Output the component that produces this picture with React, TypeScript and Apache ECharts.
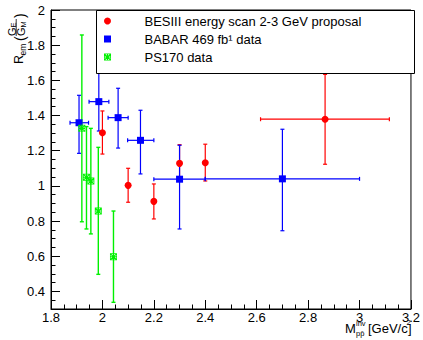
import React, { useEffect, useRef } from "react";
import * as echarts from "echarts";

// ---- data ----
const besiiiName = "BESIII energy scan 2-3 GeV proposal";
const babarName = "BABAR 469 fb\u00B9 data";
const ps170Name = "PS170 data";

const besiiiX = [2.0, 2.1, 2.2, 2.3, 2.4, 2.866];
const besiiiY = [1.302, 1.003, 0.912, 1.128, 1.132, 1.379];
const besiiiYLow = [1.181, 0.907, 0.812, 1.035, 1.028, 1.123];
const besiiiYHigh = [1.426, 1.1, 1.011, 1.234, 1.237, 1.634];
const besiiiXLow = [2.0, 2.1, 2.2, 2.3, 2.4, 2.615];
const besiiiXHigh = [2.0, 2.1, 2.2, 2.3, 2.4, 3.116];

const babarX = [1.909, 1.986, 2.061, 2.148, 2.3, 2.7];
const babarY = [1.359, 1.479, 1.388, 1.259, 1.038, 1.04];
const babarYLow = [1.185, 1.312, 1.215, 1.068, 0.755, 0.745];
const babarYHigh = [1.515, 1.649, 1.555, 1.43, 1.231, 1.322];
const babarXLow = [1.874, 1.948, 2.022, 2.098, 2.2, 2.4];
const babarXHigh = [1.946, 2.025, 2.1, 2.2, 2.4, 3.0];

const ps170X = [1.92, 1.938, 1.955, 1.984, 2.043];
const ps170Y = [1.327, 1.049, 1.028, 0.857, 0.597];
const ps170YLow = [0.796, 0.755, 0.727, 0.497, 0.338];
const ps170YHigh = [1.858, 1.337, 1.327, 1.219, 0.857];

const yTickValues = [0.4, 0.6, 0.8, 1.0, 1.2, 1.4, 1.6, 1.8, 2.0];
const yMinorTickValues = [
  0.3, 0.35, 0.45, 0.5, 0.55, 0.65, 0.7, 0.75, 0.85, 0.9, 0.95, 1.05, 1.1,
  1.15, 1.25, 1.3, 1.35, 1.45, 1.5, 1.55, 1.65, 1.7, 1.75, 1.85, 1.9, 1.95,
];

const RED = "#ff0000";
const BLUE = "#0000ff";
const GREEN = "#00f000";
const FONT = "Liberation Sans";
const SQUARE = "path://M0,0L10,0L10,10L0,10Z";
const STAR =
  "path://M0,4.2L10,4.2L10,5.8L0,5.8Z M4.2,0L5.8,0L5.8,10L4.2,10Z M0.6,1.7L1.7,0.6L9.4,8.3L8.3,9.4Z M8.3,0.6L9.4,1.7L1.7,9.4L0.6,8.3Z M0,0L10,0L10,1L0,1Z M0,9L10,9L10,10L0,10Z M0,0L1,0L1,10L0,10Z M9,0L10,0L10,10L9,10Z";

function errRows(
  x: number[],
  y: number[],
  xl: number[] | null,
  xh: number[] | null,
  yl: number[],
  yh: number[]
) {
  return x.map((v, i) => [
    v,
    y[i],
    xl ? xl[i] : v,
    xh ? xh[i] : v,
    yl[i],
    yh[i],
  ]);
}

function makeErrSeries(data: number[][], color: string, width: number) {
  return {
    type: "custom",
    silent: true,
    z: 2,
    encode: { x: 0, y: 1 },
    data,
    renderItem: (_params: any, api: any) => {
      const x = api.value(0);
      const y = api.value(1);
      const xl = api.value(2);
      const xh = api.value(3);
      const yl = api.value(4);
      const yh = api.value(5);
      const style = { stroke: color, lineWidth: width };
      const children: any[] = [];
      const cap = 2;
      if (yh > yl) {
        const a = api.coord([x, yl]);
        const b = api.coord([x, yh]);
        children.push({ type: "line", shape: { x1: a[0], y1: a[1], x2: b[0], y2: b[1] }, style });
        children.push({ type: "line", shape: { x1: a[0] - cap, y1: a[1], x2: a[0] + cap, y2: a[1] }, style });
        children.push({ type: "line", shape: { x1: b[0] - cap, y1: b[1], x2: b[0] + cap, y2: b[1] }, style });
      }
      if (xh > xl) {
        const a = api.coord([xl, y]);
        const b = api.coord([xh, y]);
        children.push({ type: "line", shape: { x1: a[0], y1: a[1], x2: b[0], y2: b[1] }, style });
        children.push({ type: "line", shape: { x1: a[0], y1: a[1] - cap, x2: a[0], y2: a[1] + cap }, style });
        children.push({ type: "line", shape: { x1: b[0], y1: b[1] - cap, x2: b[0], y2: b[1] + cap }, style });
      }
      return { type: "group", children };
    },
  };
}

export default function App() {
  const ref = useRef<HTMLDivElement>(null);

  useEffect(() => {
    if (!ref.current) return;
    const chart = echarts.init(ref.current, undefined, { renderer: "svg" });

    const txt = (
      text: string,
      x: number,
      y: number,
      size: number,
      extra: any = {}
    ) => ({
      type: "text",
      x,
      y,
      style: {
        text,
        fontSize: size,
        fontFamily: FONT,
        fill: "#000",
        verticalAlign: "bottom",
        ...extra,
      },
    });

    const option: any = {
      animation: false,
      backgroundColor: "#fff",
      grid: {
        left: 51,
        right: 9,
        top: 10,
        bottom: 31,
        show: true,
        borderColor: "#000",
        borderWidth: 1,
        backgroundColor: "transparent",
      },
      xAxis: {
        type: "value",
        min: 1.8,
        max: 3.2,
        interval: 0.2,
        axisLine: { show: true, onZero: false, lineStyle: { color: "#000", width: 1 } },
        axisTick: { show: true, inside: true, length: 9, lineStyle: { color: "#000" } },
        minorTick: { show: true, splitNumber: 4, length: 4.5, lineStyle: { color: "#000" } },
        splitLine: { show: false },
        axisLabel: {
          margin: 2,
          fontSize: 13,
          fontFamily: FONT,
          color: "#000",
          showMinLabel: true,
          showMaxLabel: true,
          formatter: (v: number) => String(parseFloat(v.toFixed(1))),
        },
      },
      yAxis: [
        {
          type: "value",
          min: 0.3,
          max: 2.0,
          axisLine: { show: true, onZero: false, lineStyle: { color: "#000", width: 1 } },
          axisTick: {
            show: true,
            inside: true,
            length: 9,
            customValues: yTickValues,
            lineStyle: { color: "#000" },
          },
          splitLine: { show: false },
          axisLabel: {
            margin: 6,
            fontSize: 13,
            fontFamily: FONT,
            color: "#000",
            customValues: yTickValues,
            showMinLabel: true,
            showMaxLabel: true,
            formatter: (v: number) => String(parseFloat(v.toFixed(1))),
          },
        },
        {
          type: "value",
          min: 0.3,
          max: 2.0,
          position: "left",
          axisLine: { show: false },
          axisTick: {
            show: true,
            inside: true,
            length: 4.5,
            customValues: yMinorTickValues,
            lineStyle: { color: "#000" },
          },
          axisLabel: { show: false },
          splitLine: { show: false },
        },
      ],
      legend: {
        orient: "vertical",
        left: 104,
        top: 14,
        padding: 0,
        itemWidth: 64,
        itemHeight: 7,
        itemGap: 4,
        selectedMode: false,
        textStyle: { fontSize: 13, fontFamily: FONT, color: "#000", lineHeight: 14 },
        data: [
          { name: besiiiName, icon: "circle" },
          { name: babarName, icon: SQUARE },
          { name: ps170Name, icon: STAR },
        ],
      },
      graphic: [
        {
          type: "rect",
          z: 3,
          shape: { x: 96.5, y: 10.5, width: 318, height: 63 },
          style: { fill: "#fff", stroke: "#000", lineWidth: 1 },
        },
        {
          type: "group",
          x: 25,
          y: 64,
          rotation: Math.PI / 2,
          children: [
            txt("R", 0, 0, 12.5),
            txt("em", 8.5, 2.5, 8.5),
            txt("(", 23, 2, 14),
            txt("G", 28, -8, 11),
            txt("E", 36.5, -7.5, 7.5),
            { type: "line", shape: { x1: 28, y1: -8.8, x2: 45, y2: -8.8 }, style: { stroke: "#000", lineWidth: 0.8 } },
            txt("G", 28, 1.5, 11),
            txt("M", 36.5, 2, 7.5),
            txt(")", 46, 2, 14),
          ],
        },
        txt("M", 345, 335, 13),
        txt("inv", 356, 327.5, 7.5),
        txt("pp\u0304", 356, 337.5, 7.5),
        txt("[GeV/c", 368, 335, 13),
        txt("2", 406.5, 326.5, 7.5),
        txt("]", 408, 335, 13),
      ],
      series: [
        makeErrSeries(errRows(besiiiX, besiiiY, besiiiXLow, besiiiXHigh, besiiiYLow, besiiiYHigh), RED, 1.2),
        makeErrSeries(errRows(babarX, babarY, babarXLow, babarXHigh, babarYLow, babarYHigh), BLUE, 1.2),
        makeErrSeries(errRows(ps170X, ps170Y, null, null, ps170YLow, ps170YHigh), GREEN, 1.4),
        {
          name: besiiiName,
          type: "scatter",
          symbol: "circle",
          symbolSize: 7,
          z: 3,
          itemStyle: { color: RED, opacity: 1 },
          data: besiiiX.map((v, i) => [v, besiiiY[i]]),
        },
        {
          name: babarName,
          type: "scatter",
          symbol: SQUARE,
          symbolSize: 7,
          z: 3,
          itemStyle: { color: BLUE, opacity: 1 },
          data: babarX.map((v, i) => [v, babarY[i]]),
        },
        {
          name: ps170Name,
          type: "scatter",
          symbol: STAR,
          symbolSize: 7,
          z: 3,
          itemStyle: { color: GREEN, opacity: 1 },
          data: ps170X.map((v, i) => [v, ps170Y[i]]),
        },
      ],
    };

    chart.setOption(option);
    return () => chart.dispose();
  }, []);

  return (
    <div
      ref={ref}
      style={{ position: "fixed", left: 0, top: 0, width: 423, height: 340, background: "#fff" }}
    />
  );
}
